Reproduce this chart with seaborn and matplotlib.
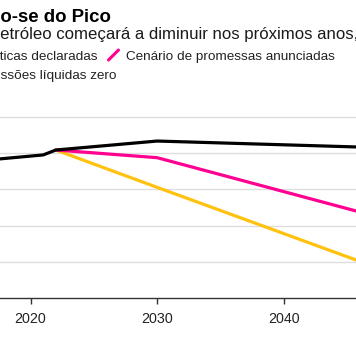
import pandas as pd
import numpy as np
import matplotlib
matplotlib.use("Agg")
import matplotlib.pyplot as plt
from matplotlib.lines import Line2D
import seaborn as sns

# dados (mb/d)
anos = [2010, 2021, 2022, 2030, 2050]
politicas_declaradas = [90.0, 98.8, 102.2, 108.4, 103.2]
promessas_anunciadas = [None, None, 102.2, 96.9, 50.0]
emissoes_zero = [None, None, 102.2, 76.4, 12.5]

cenarios = ["Cenário de políticas declaradas",
            "Cenário de promessas anunciadas",
            "Cenário de emissões líquidas zero"]
cores = {cenarios[0]: "#000000", cenarios[1]: "#ff0090", cenarios[2]: "#ffc20e"}
x_ticks = [2020, 2030, 2040]

titulo = "Aproximando-se do Pico"
subtitulo = "A demanda por petróleo começará a diminuir nos próximos anos, segundo a AIE"

rows = []
for nome, vals in zip(cenarios, [politicas_declaradas, promessas_anunciadas, emissoes_zero]):
    for a, v in zip(anos, vals):
        if v is not None:
            rows.append({"ano": a, "valor": v, "cenario": nome})
df = pd.DataFrame(rows)

sns.set_theme(style="white")
plt.rcParams["font.family"] = ["Liberation Sans", "DejaVu Sans"]

W, H = 356, 364
fig = plt.figure(figsize=(W / 100, H / 100), dpi=100)

def fx(px):
    return px / W

def fy(py):
    # py medido a partir do topo
    return 1 - py / H

# eixo maior que a figura (recorte)
ax = fig.add_axes([fx(-96.2), fy(298), fx(40 * 12.67), (130 * 36.2 / 25) / H])

sns.lineplot(data=df, x="ano", y="valor", hue="cenario",
             hue_order=[cenarios[2], cenarios[1], cenarios[0]],
             palette=cores, linewidth=2.3, legend=False, ax=ax)

ax.set_xlim(2010, 2050)
ax.set_ylim(0, 130)
ax.set_yticks([25, 50, 75, 100, 125])
ax.set_yticklabels([])
ax.yaxis.grid(True, color="#dedede", linewidth=1.0)
ax.xaxis.grid(False)
ax.set_xticks(x_ticks)
ax.set_xlabel("")
ax.set_ylabel("")
ax.tick_params(axis="x", bottom=True, length=4, width=1, color="#333333",
               pad=6, labelsize=10.3, labelcolor="#222222")
ax.tick_params(axis="y", left=False)
for s in ["top", "right", "left"]:
    ax.spines[s].set_visible(False)
ax.spines["bottom"].set_color("#333333")
ax.spines["bottom"].set_linewidth(1.0)

renderer = fig.canvas.get_renderer()

def largura(txt, **kw):
    t = fig.text(0, 0, txt, **kw)
    w = t.get_window_extent(renderer).width
    t.remove()
    return w

# título e subtítulo
fig.text(fx(110.5), fy(21.5), titulo, ha="right", va="baseline",
         fontsize=13.4, fontweight="bold", color="#000000")
fs_sub = 12.1
pref = largura("A demanda por p", fontsize=fs_sub)
fig.text(fx(0.5 - pref), fy(39.5), subtitulo, ha="left", va="baseline",
         fontsize=fs_sub, color="#1a1a1a")

# legenda manual
fs_leg = 9.7
fig.text(fx(97), fy(60), cenarios[0], ha="right", va="baseline",
         fontsize=fs_leg, color="#222222")
w0 = largura(cenarios[0], fontsize=fs_leg)
bx = 97 - w0 - 17
fig.add_artist(Line2D([fx(bx), fx(bx + 10)], [fy(60), fy(50)],
                      color=cores[cenarios[0]], linewidth=2.2, transform=fig.transFigure))
fig.add_artist(Line2D([fx(108.5), fx(118.5)], [fy(60), fy(50)],
                      color=cores[cenarios[1]], linewidth=2.2, transform=fig.transFigure))
fig.text(fx(126), fy(60), cenarios[1], ha="left", va="baseline",
         fontsize=fs_leg, color="#222222")
pref2 = largura("Cenário de emi", fontsize=fs_leg)
x2 = 0.5 - pref2
fig.text(fx(x2), fy(79.5), cenarios[2], ha="left", va="baseline",
         fontsize=fs_leg, color="#222222")
fig.add_artist(Line2D([fx(x2 - 17), fx(x2 - 7)], [fy(79.5), fy(69.5)],
                      color=cores[cenarios[2]], linewidth=2.2, transform=fig.transFigure))

fig.savefig("out.png", dpi=100)
